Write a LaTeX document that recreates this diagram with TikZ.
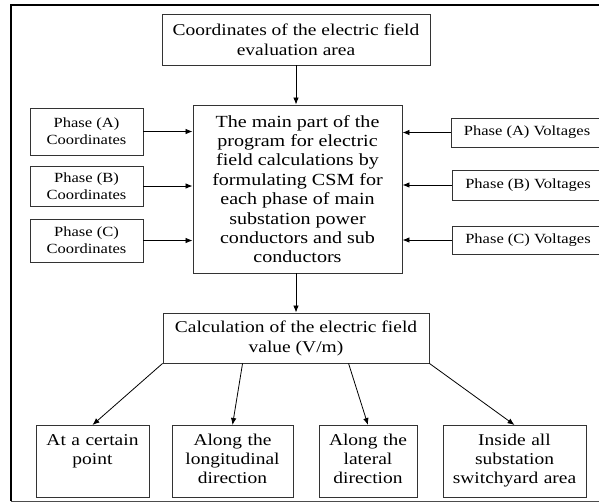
\documentclass[tikz,border=0pt]{standalone}
\usepackage{fontspec}
\setmainfont{Liberation Serif}[FakeStretch=1.18]
\usetikzlibrary{positioning, arrows.meta}

\begin{document}
\begin{tikzpicture}[x=1pt, y=-1pt, >={Latex[length=7pt,width=5.5pt]},
  block/.style={draw=black!80, line width=0.9pt, rectangle, align=center, inner sep=3pt},
  big/.style={font=\fontsize{16.5}{20}\selectfont},
  small/.style={font=\fontsize{14}{17}\selectfont},
  leaf/.style={block, anchor=north, text height=17pt, text depth=49pt, font=\fontsize{16.5}{19}\selectfont},
  link/.style={->, line width=0.8pt}]
  \clip (0,0) rectangle (599,503);
  % Frame
  \draw [line width=1.6pt] (620,5) -- (11,5) -- (11,501);
  \draw [black!70, line width=0.8pt] (11,501) -- (620,501);

  % Define blocks
  \node [block, big, minimum width=268pt, minimum height=51pt] (area) at (296,39.5) {Coordinates of the electric field\\evaluation area};
  \node [block, minimum width=209pt, minimum height=168pt, font=\fontsize{17}{19.4}\selectfont] (main) at (297.5,189) {The main part of the\\program for electric\\field calculations by\\formulating CSM for\\each phase of main\\substation power\\conductors and sub\\conductors};

  \node [block, small, minimum width=113pt, minimum height=47pt] (pAc) at (86.5,131.5) {Phase (A)\\Coordinates};
  \node [block, small, minimum width=113pt, minimum height=40pt] (pBc) at (86.5,186) {Phase (B)\\Coordinates};
  \node [block, small, minimum width=113pt, minimum height=43pt] (pCc) at (86.5,240.5) {Phase (C)\\Coordinates};

  \node [block, small, minimum width=152pt, minimum height=29pt] (pAv) at (527,132.5) {Phase (A) Voltages};
  \node [block, small, minimum width=152pt, minimum height=30pt] (pBv) at (528,185) {Phase (B) Voltages};
  \node [block, small, minimum width=152pt, minimum height=28pt] (pCv) at (528,240) {Phase (C) Voltages};

  \node [block, big, minimum width=266pt, minimum height=50pt] (calc) at (296,338) {Calculation of the electric field\\value (V/m)};

  \node [leaf, text width=107pt] (point) at (92.5,425) {At a certain\\point};
  \node [leaf, text width=115pt] (longi) at (232.5,425) {Along the\\longitudinal\\direction};
  \node [leaf, text width=92pt] (lat) at (368,425) {Along the\\lateral\\direction};
  \node [leaf, text width=137pt] (yard) at (514.5,425) {Inside all\\substation\\switchyard area};

  % Connect blocks with arrows
  \draw [link] (area.south) -- (area.south |- main.north);
  \draw [link] (pAc.east) -- (pAc.east -| main.west);
  \draw [link] (pBc.east) -- (pBc.east -| main.west);
  \draw [link] (pCc.east) -- (pCc.east -| main.west);
  \draw [link] (pAv.west) -- (pAv.west -| main.east);
  \draw [link] (pBv.west) -- (pBv.west -| main.east);
  \draw [link] (pCv.west) -- (pCv.west -| main.east);
  \draw [link] (main.south -| calc.north) -- (calc.north);

  \draw [link] (calc.south west) -- (point.north);
  \draw [link] ([xshift=80pt]calc.south west) -- (longi.north);
  \draw [link] ([xshift=186pt]calc.south west) -- (lat.north);
  \draw [link] (calc.south east) -- (yard.north);
\end{tikzpicture}
\end{document}
